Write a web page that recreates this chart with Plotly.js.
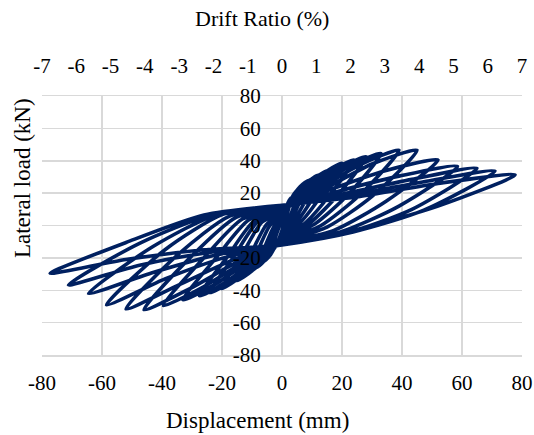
<!DOCTYPE html>
<html><head><meta charset="utf-8">
<script src="https://cdn.plot.ly/plotly-3.0.1.min.js"></script>
<style>html,body{margin:0;padding:0;background:#fff}#chart{width:534px;height:435px}</style>
</head><body><div id="chart"></div>
<script>
// Hysteresis record: displacement (mm) and lateral load (kN)
const dispMM = [0,
 1,2,3,2,1,0,-1.2,-2.3,-3.5,-2.3,-1.2,0,
 2,4,6,4,2,0,-2,-4,-6,-4,-2,0,
 3,6,9,6,3,0,-2.8,-5.7,-8.5,-5.7,-2.8,0,
 4,8,12,8,4,0,-4,-8,-12,-8,-4,0,
 5.2,10.3,15.5,10.3,5.2,0,-5,-10,-15,-10,-5,0,
 6.7,13.3,20,13.3,6.7,0,-6.7,-13.3,-20,-13.3,-6.7,0,
 8,16,24,16,8,0,-8,-16,-24,-16,-8,0,
 9.3,18.7,28,18.7,9.3,0,-9.2,-18.3,-27.5,-18.3,-9.2,0,
 11,22,33,22,11,0,-11,-22,-33,-22,-11,0,
 13,26,39,26,13,0,-13.2,-26.3,-39.5,-26.3,-13.2,0,
 15,30,45,30,15,0,-15.3,-30.7,-46,-30.7,-15.3,0,
 17.3,34.7,52,34.7,17.3,0,-17.3,-34.7,-52,-34.7,-17.3,0,
 19.5,39,58.5,39,19.5,0,-19.5,-39,-58.5,-39,-19.5,0,
 21.7,43.3,65,43.3,21.7,0,-21.5,-43,-64.5,-43,-21.5,0,
 23.7,47.3,71,47.3,23.7,0,-23.7,-47.5,-71.2,-47.5,-23.7,0,
 26,52,77.7,52,26,0,-26,-52,-77.3,-52,-26,0];
const loadKN = [0,
 8,14,17,9,3,-3,-9,-13.5,-16,-8,-2,3,
 12,19.5,23.5,12,3,-4,-12,-18.5,-22,-11,-2,4,
 16,24,28,15,3,-5,-14,-21.5,-26,-13,-1,5,
 17,26,31,16,3,-6,-16,-25,-30,-15,0,6,
 19,28.5,34,17,3,-7,-18,-28,-34,-16,1,7,
 21,31.5,38.5,19,3,-8,-20,-31,-39,-18,2,8,
 22,33,40.5,19,2,-8.5,-21,-33,-41.5,-19,2.5,8.5,
 22.5,34.5,42.5,19,1.5,-9,-21.5,-34.5,-43.5,-19.5,3,9,
 23,36,44.5,19,1,-9.5,-22,-36,-46,-20,3.5,9.5,
 23.5,37.5,46.5,19,0,-10,-23,-38,-49.5,-20.5,4,10,
 23.5,38,46.5,18,-1,-10.5,-23,-39,-52,-20,5,10.5,
 23,34,40.5,15,-3,-11,-22,-37,-51.5,-18,6,11,
 21.5,30.5,36.5,12,-4,-11.5,-20,-33,-49,-15,7,11.5,
 20,28.5,35.3,10,-4.5,-12,-18,-29,-42,-13,7,12,
 19,27,33.6,9.5,-4,-12,-16.5,-24.5,-36.7,-11,6.5,12.5,
 18,26,31.2,12,-2,-12,-15,-21,-29.5,-10.5,6.5,12.5];

const xTickVals = [-80,-60,-40,-20,0,20,40,60,80];
const xTickText = ['-80','-60','-40','-20','0','20','40','60','80'];
const yTickVals = [-80,-60,-40,-20,0,20,40,60,80];
const yTickText = ['-80','-60','-40','-20','0','20','40','60','80'];
const driftTickVals = [-7,-6,-5,-4,-3,-2,-1,0,1,2,3,4,5,6,7];
const driftTickText = ['-7','-6','-5','-4','-3','-2','-1','0','1','2','3','4','5','6','7'];

const FONT = '"Liberation Serif", "Times New Roman", Times, serif';
const GRID = '#d9d9d9';

const traces = [
  {x: dispMM, y: loadKN, type: 'scatter', mode: 'lines',
   line: {color: '#002060', width: 3.6, shape: 'spline', smoothing: 0.7},
   hoverinfo: 'skip', showlegend: false, xaxis: 'x', yaxis: 'y'},
  {x: [driftTickVals[0], driftTickVals[driftTickVals.length-1]], y: [0, 0],
   type: 'scatter', mode: 'markers', marker: {opacity: 0, size: 1},
   hoverinfo: 'skip', showlegend: false, xaxis: 'x2', yaxis: 'y'}
];

const layout = {
  width: 534, height: 435,
  margin: {l: 42, r: 12, t: 96, b: 80, pad: 0},
  paper_bgcolor: '#fff', plot_bgcolor: '#fff',
  showlegend: false,
  font: {family: FONT, color: '#000', size: 21},
  xaxis: {
    range: [-80, 80], tickmode: 'array', tickvals: xTickVals, ticktext: xTickText,
    showgrid: true, gridcolor: GRID, gridwidth: 1.5, zeroline: false,
    showline: true, mirror: true, linecolor: GRID, linewidth: 1.5,
    ticks: 'outside', ticklen: 8, tickcolor: 'rgba(0,0,0,0)',
    tickfont: {family: FONT, size: 21, color: '#000'}, anchor: 'y', fixedrange: true
  },
  xaxis2: {
    range: [-7, 7], overlaying: 'x', side: 'top', anchor: 'y',
    tickmode: 'array', tickvals: driftTickVals, ticktext: driftTickText,
    showgrid: false, zeroline: false, showline: false,
    ticks: 'outside', ticklen: 14, tickcolor: 'rgba(0,0,0,0)',
    tickfont: {family: FONT, size: 21, color: '#000'}, fixedrange: true
  },
  yaxis: {
    range: [-80, 80], tickmode: 'array', tickvals: yTickVals, ticktext: yTickText,
    anchor: 'free', position: 0.5, side: 'left',
    showgrid: true, gridcolor: GRID, gridwidth: 1.5, zeroline: false,
    showline: false, ticks: 'outside', ticklen: 17, tickcolor: 'rgba(0,0,0,0)',
    tickfont: {family: FONT, size: 21, color: '#000'}, fixedrange: true
  },
  annotations: [
    {text: 'Drift Ratio (%)', xref: 'paper', yref: 'paper', x: 0.458, y: 1.301,
     xanchor: 'center', yanchor: 'middle', showarrow: false, font: {family: FONT, size: 22, color: '#000'}},
    {text: 'Displacement (mm)', xref: 'paper', yref: 'paper', x: 0.448, y: -0.251,
     xanchor: 'center', yanchor: 'middle', showarrow: false, font: {family: FONT, size: 23, color: '#000'}},
    {text: 'Lateral load (kN)', xref: 'paper', yref: 'paper', x: -0.0417, y: 0.683,
     xanchor: 'center', yanchor: 'middle', textangle: -90, showarrow: false, font: {family: FONT, size: 23, color: '#000'}}
  ]
};

Plotly.newPlot('chart', traces, layout, {staticPlot: true, displayModeBar: false});
</script>
</body></html>
